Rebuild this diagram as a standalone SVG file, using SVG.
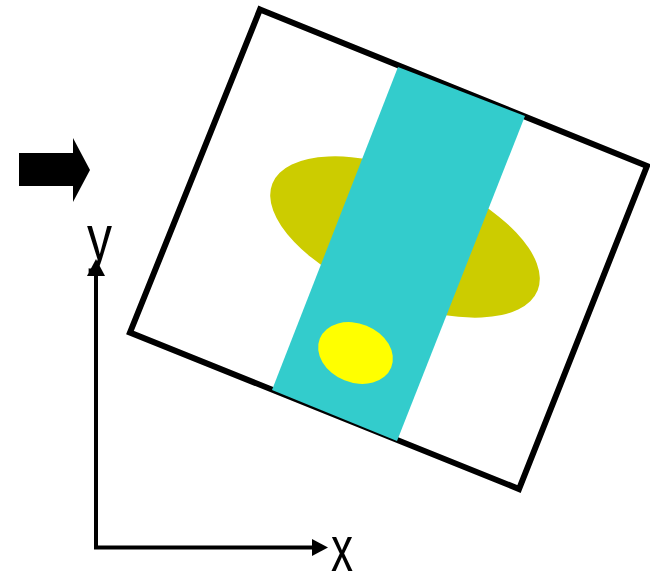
<svg xmlns="http://www.w3.org/2000/svg" width="650" height="574" viewBox="0 0 650 574">
<style>
.lbl{font-family:"Liberation Sans",Arial,sans-serif;font-size:64px;fill:#000}
.axis{stroke:#000;stroke-width:4;fill:none}
</style>
<rect width="650" height="574" fill="#fff"/>
<g id="frame">
<polygon points="260,9.5 647,166 519,489 130,332.5" fill="#fff" stroke="#000" stroke-width="6" stroke-linejoin="miter"/>
</g>
<g id="olive-ellipse">
<ellipse cx="405" cy="237" rx="143" ry="65" transform="rotate(22 405 237)" fill="#CCCC00"/>
</g>
<g id="cyan-band">
<polygon points="398,67 525,116 397,441 272,390" fill="#33CCCC"/>
</g>
<g id="yellow-ellipse">
<ellipse cx="355.5" cy="353" rx="38.5" ry="29.5" transform="rotate(22 355.5 353)" fill="#FFFF00"/>
</g>
<g id="block-arrow">
<polygon points="19,153 73,153 73,138 90,170 73,202 73,186 19,186" fill="#000"/>
</g>
<g id="connectors">
<polyline class="axis" points="96,272 96,547.5 314,547.5"/>
<polygon points="96,259 105,276 87,276" fill="#000"/>
<polygon points="328,547.5 312,539 312,556" fill="#000"/>
</g>
<g id="labels">
<text class="lbl" x="87" y="260" textLength="25" lengthAdjust="spacingAndGlyphs">y</text>
<text class="lbl" x="331" y="571" textLength="22" lengthAdjust="spacingAndGlyphs">x</text>
</g>
</svg>
